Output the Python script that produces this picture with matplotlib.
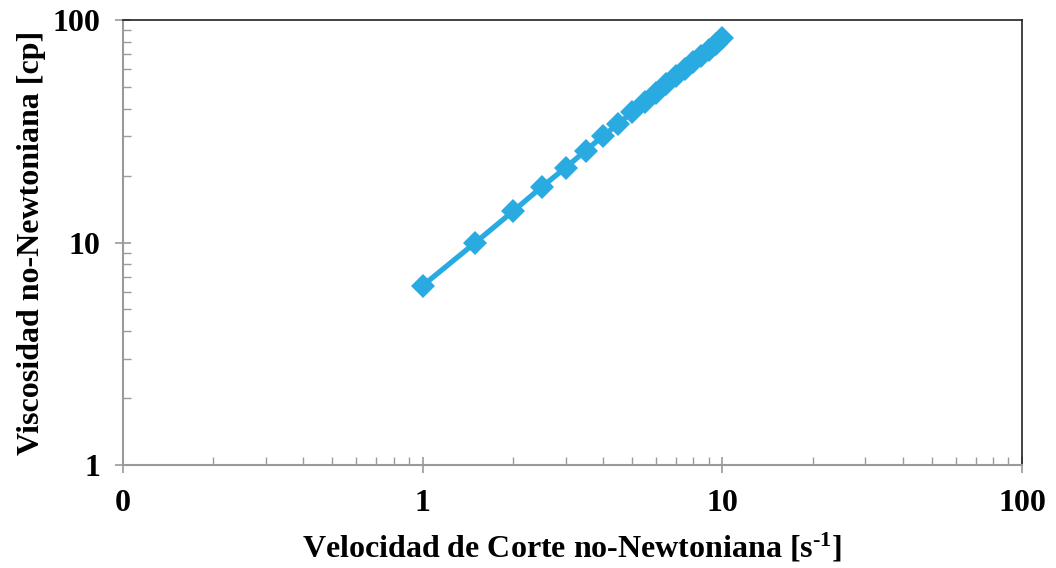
import matplotlib
matplotlib.use("Agg")
import matplotlib.pyplot as plt
from matplotlib.ticker import FixedLocator, FixedFormatter, LogLocator, NullFormatter

# datos
shear_rate = [1.0, 1.5, 2.0, 2.5, 3.0, 3.5, 4.0, 4.5, 5.0, 5.5,
              6.0, 6.5, 7.0, 7.5, 8.0, 8.5, 9.0, 9.5, 10.0]
viscosity = [6.4, 10.0, 13.8, 17.8, 21.7, 25.9, 30.1, 34.2, 38.5, 42.8,
             47.2, 51.5, 55.8, 60.2, 64.5, 69.0, 73.5, 78.0, 83.0]

x_ticks = [0.1, 1, 10, 100]
x_tick_labels = ["0", "1", "10", "100"]
y_ticks = [1, 10, 100]
y_tick_labels = ["1", "10", "100"]

plt.rcParams["font.family"] = ["Liberation Serif", "DejaVu Serif"]
plt.rcParams["font.weight"] = "bold"
plt.rcParams["mathtext.fontset"] = "custom"
plt.rcParams["mathtext.rm"] = "Liberation Serif:bold"
plt.rcParams["mathtext.bf"] = "Liberation Serif:bold"
plt.rcParams["mathtext.default"] = "rm"

fig = plt.figure(figsize=(10.56, 5.68), dpi=100)
ax = fig.add_axes([0.1165, 0.1813, 0.8513, 0.7835])

ax.plot(shear_rate, viscosity, color="#29ABE2", lw=3.8, marker="D",
        markersize=12, markeredgewidth=0, solid_capstyle="round")

ax.set_xscale("log")
ax.set_yscale("log")
ax.set_xlim(0.1, 100)
ax.set_ylim(1, 100)

grey = "#9a9a9a"
ax.xaxis.set_major_locator(FixedLocator(x_ticks))
ax.xaxis.set_major_formatter(FixedFormatter(x_tick_labels))
ax.yaxis.set_major_locator(FixedLocator(y_ticks))
ax.yaxis.set_major_formatter(FixedFormatter(y_tick_labels))
ax.xaxis.set_minor_locator(LogLocator(base=10, subs=range(2, 10)))
ax.yaxis.set_minor_locator(LogLocator(base=10, subs=range(2, 10)))
ax.xaxis.set_minor_formatter(NullFormatter())
ax.yaxis.set_minor_formatter(NullFormatter())

ax.tick_params(which="major", direction="inout", length=12, width=1.2,
               color=grey, labelsize=23)
ax.tick_params(axis="x", which="major", pad=11)
ax.tick_params(axis="y", which="major", pad=10)
ax.tick_params(which="minor", direction="in", length=6, width=1.0, color=grey)
ax.tick_params(axis="x", which="both", top=False)
ax.tick_params(axis="y", which="both", right=False)

for side in ["left", "bottom"]:
    ax.spines[side].set_color(grey)
    ax.spines[side].set_linewidth(1.5)
for side in ["top", "right"]:
    ax.spines[side].set_color("#222222")
    ax.spines[side].set_linewidth(1.2)

ax.set_xlabel(r"Velocidad de Corte no-Newtoniana [s$^{\text{-1}}$]", fontsize=23,
              fontweight="bold", labelpad=10)
ax.set_ylabel("Viscosidad no-Newtoniana [cp]", fontsize=23,
              fontweight="bold", labelpad=5)

fig.savefig("out.png", dpi=100)
